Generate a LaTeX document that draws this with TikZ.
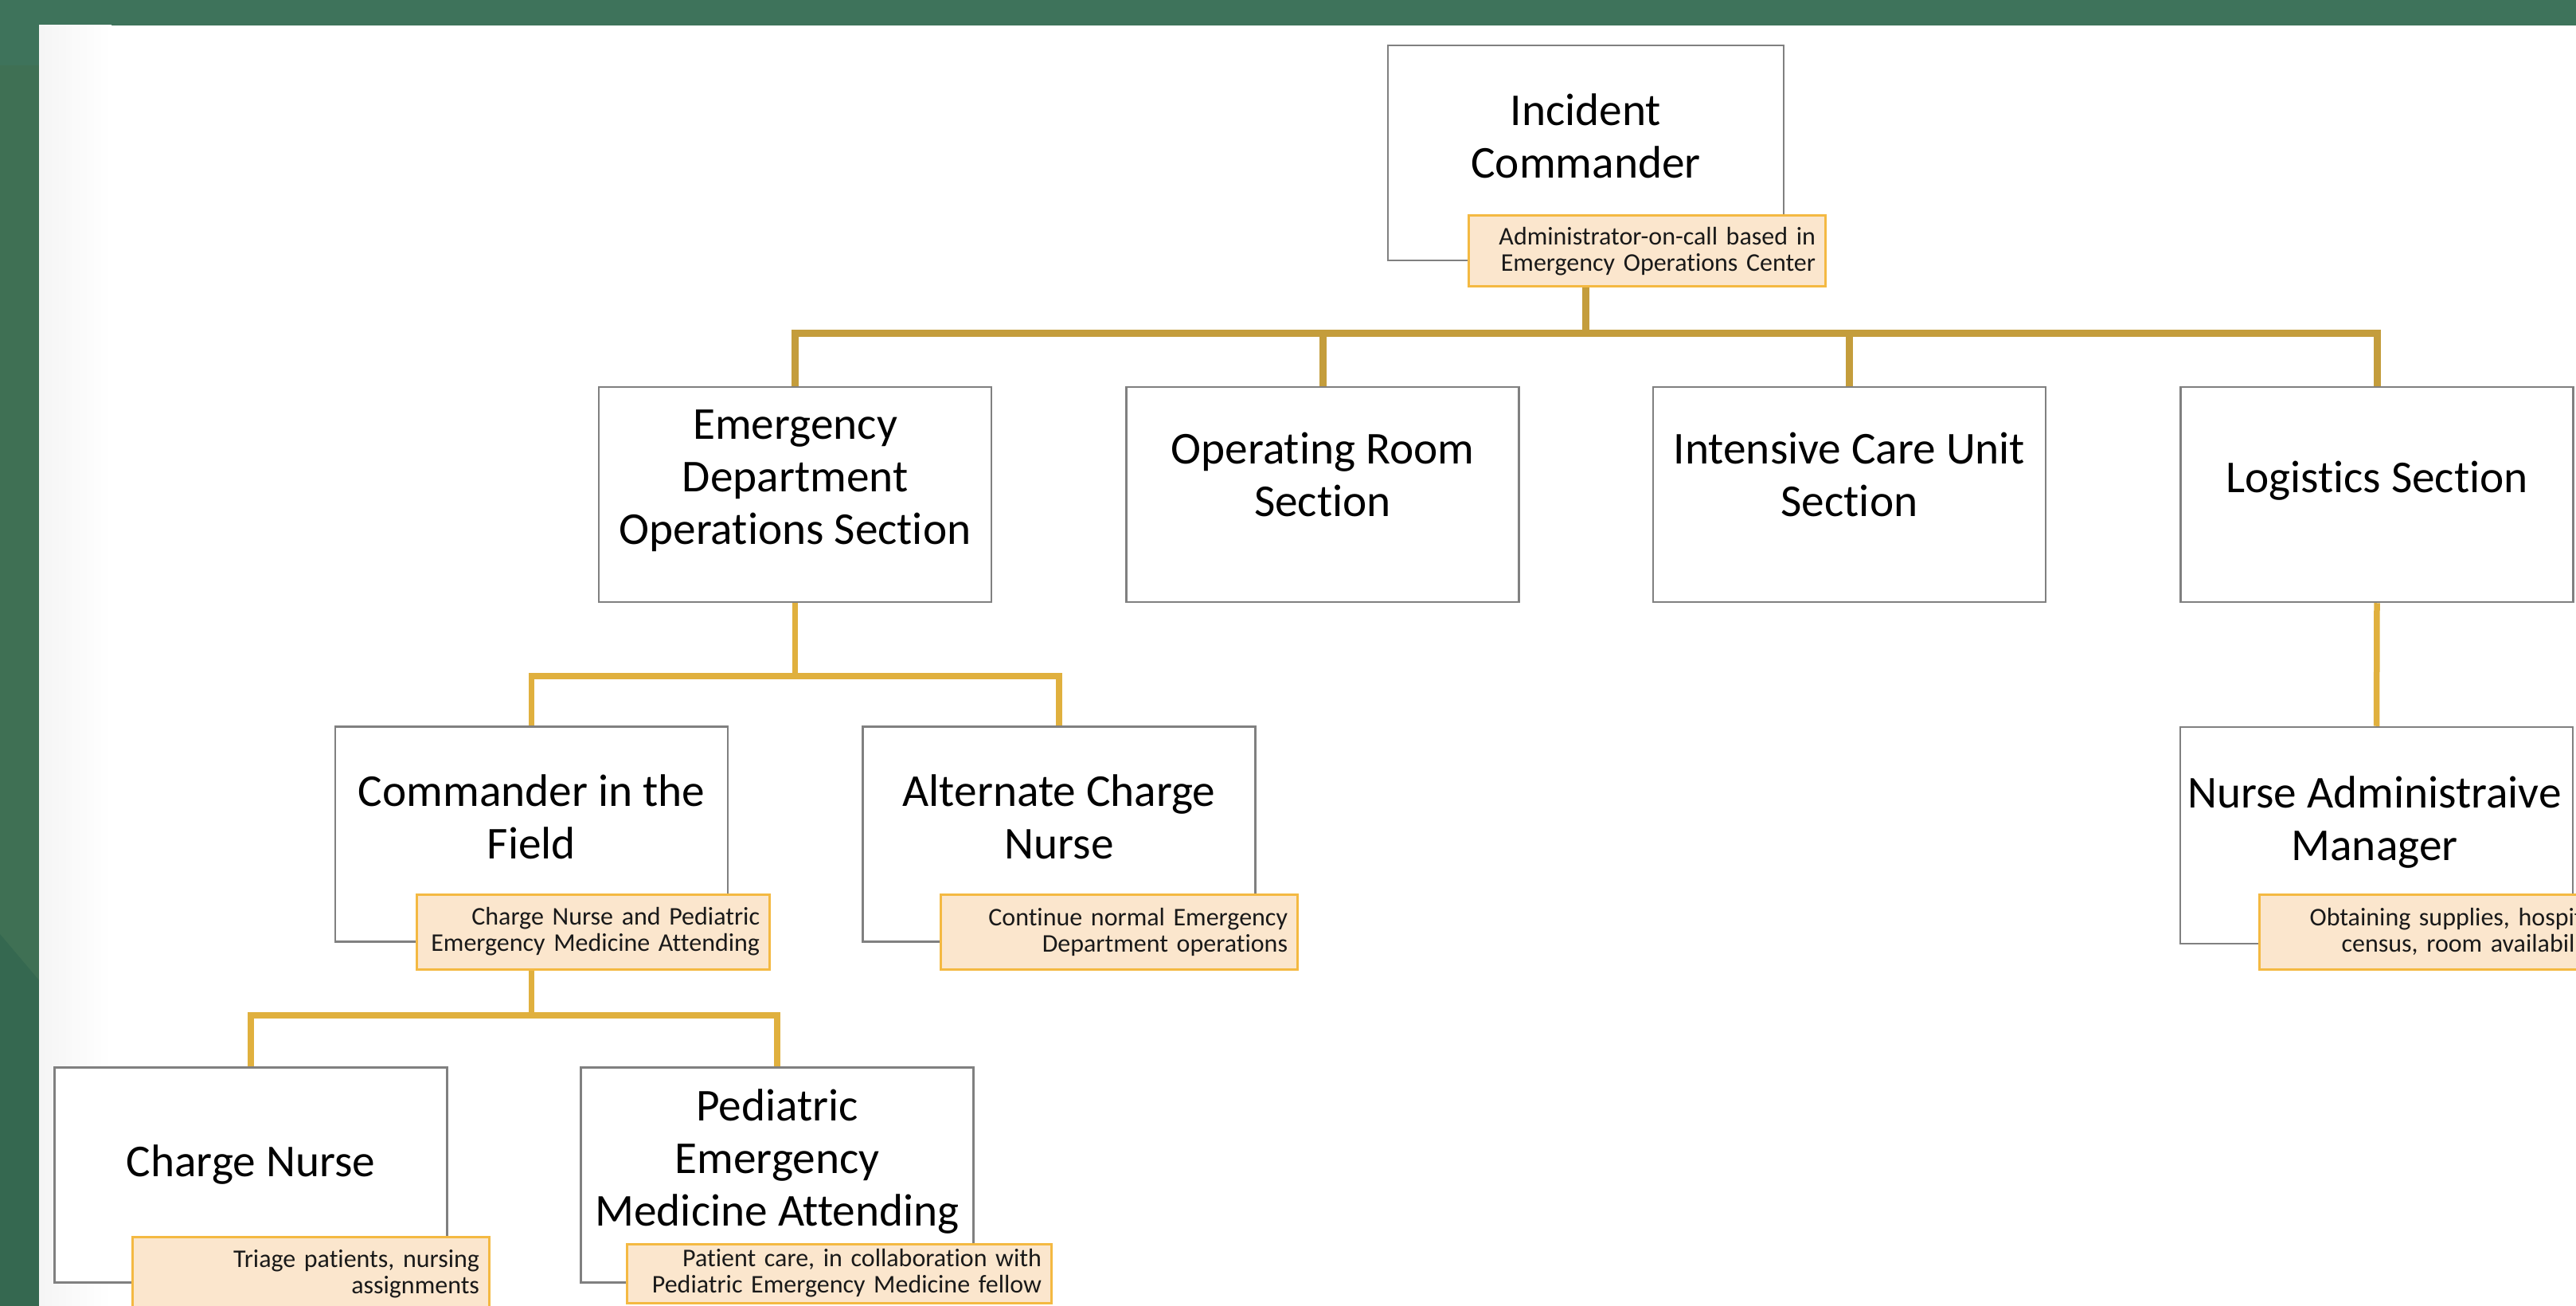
\documentclass[tikz,border=0pt]{standalone}
\usepackage{fontspec}
\setmainfont{Carlito}[Ligatures=NoCommon]
\definecolor{gtop}{RGB}{62,115,91}
\definecolor{gleft}{RGB}{63,112,84}
\definecolor{gdark}{RGB}{53,104,80}
\definecolor{boxline}{RGB}{128,128,128}
\definecolor{lblfill}{RGB}{251,230,205}
\definecolor{lblline}{RGB}{244,185,66}
\definecolor{treeA}{RGB}{196,157,60}
\definecolor{treeB}{RGB}{224,176,62}
\tikzset{
  orgbox/.style={draw=boxline, line width=0.025cm, fill=white, minimum width=4.93cm, minimum height=2.70cm, inner sep=0pt},
  boxtext/.style={align=center, font=\fontsize{16.3}{18.8}\selectfont, inner sep=0pt, text=black},
  lbl/.style={draw=lblline, line width=0.03cm, fill=lblfill, inner xsep=0.12cm, inner ysep=0pt, align=right, font=\fontsize{9.1}{9.4}\selectfont, text=black!90},
  linkA/.style={draw=treeA, line width=0.09cm},
  linkB/.style={draw=treeB, line width=0.075cm},
}
\begin{document}
\begin{tikzpicture}[x=1cm,y=-1cm]
\useasboundingbox (0,0) rectangle (32.35,16.40);
% background
\fill[gtop] (0,0) rectangle (32.35,16.40);
\fill[gleft] (0,0.82) rectangle (0.49,16.40);
\fill[gdark] (0,11.73) -- (0.49,12.31) -- (0.49,16.40) -- (0,16.40) -- cycle;
\fill[white] (0.49,0.32) rectangle (32.35,16.40);
\shade[left color=black!4, right color=white] (0.49,0.32) rectangle (1.4,16.40);

% boxes
\node[orgbox, minimum width=4.97cm] (ic) at (19.915,1.92) {};
\node[orgbox] (ed)  at (9.985,6.21) {};
\node[orgbox] (or)  at (16.61,6.21) {};
\node[orgbox] (icu) at (23.225,6.21) {};
\node[orgbox] (log) at (29.85,6.21) {};
\node[orgbox] (cf)  at (6.675,10.475) {};
\node[orgbox] (acn) at (13.30,10.475) {};
\node[orgbox, minimum height=2.72cm] (nam) at (29.845,10.49) {};
\node[orgbox] (cn)  at (3.15,14.755) {};
\node[orgbox] (pema) at (9.76,14.755) {};

% box texts
\node[boxtext] (ic-t)  at (19.915,1.705) {Incident\\Commander};
\node[boxtext] (ed-t)  at (9.985,6.035) {Emergency\\Department\\Operations Section};
\node[boxtext] (or-t)  at (16.61,5.96) {Operating Room\\Section};
\node[boxtext] (icu-t) at (23.225,5.96) {Intensive Care Unit\\Section};
\node[boxtext] (log-t) at (29.85,6.035) {Logistics Section};
\node[boxtext] (cf-t)  at (6.675,10.26) {Commander in the\\Field};
\node[boxtext] (acn-t) at (13.30,10.26) {Alternate Charge\\Nurse};
\node[boxtext] (nam-t) at (29.82,10.325) {Nurse Administraive\\Manager};
\node[boxtext] (cn-t)  at (3.15,14.625) {Charge Nurse};
\node[boxtext] (pema-t) at (9.76,14.585) {Pediatric\\Emergency\\Medicine Attending};

% labels
\node[lbl, text width=4.24cm, minimum height=0.89cm] (icl) at (20.68,3.155) {Administrator-on-call based in\\Emergency Operations Center};
\node[lbl, text width=4.19cm, minimum height=0.94cm] (cfl) at (7.445,11.70) {Charge Nurse and Pediatric\\Emergency Medicine Attending};
\node[lbl, text width=4.24cm, minimum height=0.94cm] (acnl) at (14.05,11.70) {Continue normal Emergency\\Department operations};
\node[lbl, text width=4.17cm, minimum height=0.94cm] (naml) at (30.575,11.70) {Obtaining supplies, hospital\\census, room availability};
\node[lbl, text width=4.24cm, minimum height=0.94cm] (cnl) at (3.90,16.00) {Triage patients, nursing\\assignments};
\node[lbl, text width=5.09cm, minimum height=0.74cm] (pemal) at (10.535,15.99) {Patient care, in collaboration with\\Pediatric Emergency Medicine fellow};

% connectors
\coordinate (j1) at (19.915,4.19);
\draw[linkA] (ic.south |- icl.south) -- (j1);
\draw[linkA] (ed.north) -- (ed.north |- j1) -- (log.north |- j1) -- (log.north);
\draw[linkA] (or.north) -- (or.north |- j1);
\draw[linkA] (icu.north) -- (icu.north |- j1);

\coordinate (j2) at (9.985,8.49);
\draw[linkB] (ed.south) -- (j2);
\draw[linkB] (cf.north) -- (cf.north |- j2) -- (acn.north |- j2) -- (acn.north);
\draw[linkB] (log.south) -- (nam.north);

\coordinate (j3) at (6.675,12.75);
\draw[linkB] (cf.south |- cfl.south) -- (j3);
\draw[linkB] (cn.north) -- (cn.north |- j3) -- (pema.north |- j3) -- (pema.north);
\end{tikzpicture}
\end{document}
